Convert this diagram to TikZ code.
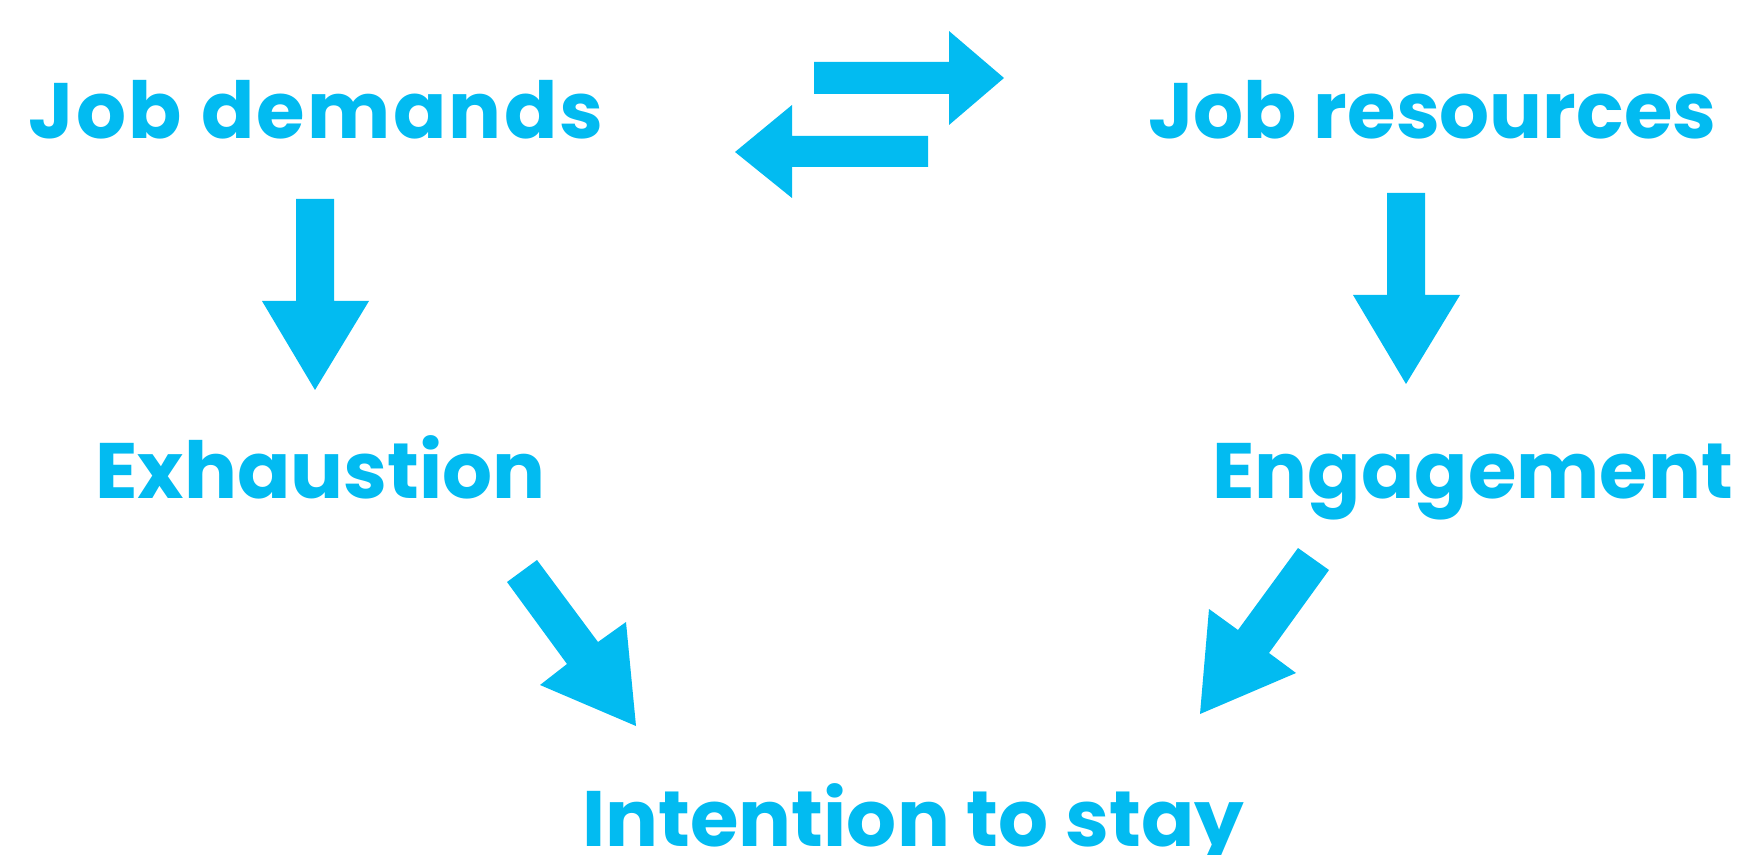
\documentclass[tikz,border=0pt]{standalone}
\usepackage{fontspec}
\setmainfont{Poppins}
\definecolor{jdcyan}{HTML}{02BBF1}
\begin{document}
\begin{tikzpicture}[x=0.5pt,y=-0.5pt,
  label/.style={anchor=base west,inner sep=0pt,text=jdcyan,
    font=\fontsize{39.3}{47}\selectfont\bfseries},
  blockarrow/.style={fill=jdcyan,draw=none}]
\useasboundingbox (0,0) rectangle (1750,855);

% concepts
\node[label] (demands)   at (28,139)  {\addfontfeature{LetterSpace=3.0}Job demands};
\node[label] (resources) at (1148,139) {Job resources};
\node[label] (exhaust)   at (95,498)  {Exhaustion};
\node[label] (engage)    at (1212,498) {Engagement};
\node[label] (stay)      at (582,846) {Intention to stay};

% reciprocal arrows between demands and resources
\fill[blockarrow] (814,62) -- (949,62) -- (949,31) -- (1004,78) -- (949,125)
  -- (949,94) -- (814,94) -- cycle;
\fill[blockarrow] (928,136) -- (792,136) -- (792,105) -- (735,152) -- (792,198)
  -- (792,167) -- (928,167) -- cycle;

% downward arrows
\fill[blockarrow] (296,199) -- (334,199) -- (334,301) -- (369,301) -- (315,390)
  -- (262,301) -- (296,301) -- cycle;
\fill[blockarrow] (1387,193) -- (1425,193) -- (1425,295) -- (1460,295) -- (1406,384)
  -- (1353,295) -- (1387,295) -- cycle;

% diagonal arrows into intention to stay
\fill[blockarrow] (507,582) -- (537,560) -- (598,642) -- (626,622) -- (636,726)
  -- (540,685) -- (567,664) -- cycle;
\fill[blockarrow] (1298,548) -- (1329,570) -- (1269,653) -- (1296,673) -- (1200,714)
  -- (1209,609) -- (1238,630) -- cycle;
\end{tikzpicture}
\end{document}
